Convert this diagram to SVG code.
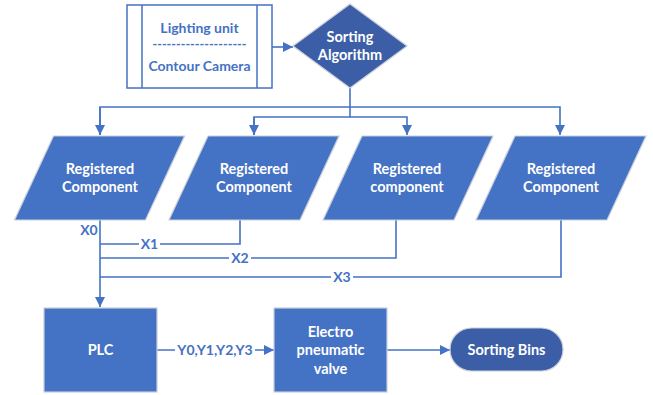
<svg xmlns="http://www.w3.org/2000/svg" width="653" height="395" viewBox="0 0 653 395">
<defs>
<marker id="arr" viewBox="0 0 10 10" refX="10" refY="5" markerWidth="10" markerHeight="10" markerUnits="userSpaceOnUse" orient="auto">
<path d="M0,0 L10,5 L0,10 Z" fill="#4472C4"/>
</marker>
<style>
.ln{fill:none;stroke:#4472C4;stroke-width:1.6}
.sh{fill:#4472C4;stroke:#C9CFD9;stroke-width:1.2}
.dk{fill:#3B5EA6;stroke:#C9CFD9;stroke-width:1.2}
.wt{font-family:Lato,"Open Sans","Liberation Sans",sans-serif;font-weight:bold;font-size:14.5px;fill:#FFFFFF;text-anchor:middle}
.bt{font-family:Lato,"Open Sans","Liberation Sans",sans-serif;font-weight:bold;font-size:14px;fill:#4472C4;text-anchor:middle}
</style>
</defs>
<rect width="653" height="395" fill="#FFFFFF"/>
<g id="connectors">
<line class="ln" x1="272" y1="47" x2="293" y2="47" marker-end="url(#arr)"/>
<polyline class="ln" points="350,88 350,117"/>
<polyline class="ln" points="100,135 100,107 560,107 560,135" marker-end="url(#arr)"/>
<line class="ln" x1="100" y1="107" x2="100" y2="135" marker-end="url(#arr)"/>
<polyline class="ln" points="254,135 254,117 407,117 407,135" marker-end="url(#arr)"/>
<line class="ln" x1="254" y1="117" x2="254" y2="135" marker-end="url(#arr)"/>
<line class="ln" x1="100" y1="220" x2="100" y2="307" marker-end="url(#arr)"/>
<polyline class="ln" points="240,220 240,244 100,244"/>
<polyline class="ln" points="396,220 396,258 100,258"/>
<polyline class="ln" points="561,220 561,277 100,277"/>
<line class="ln" x1="157" y1="350" x2="274" y2="350" marker-end="url(#arr)"/>
<line class="ln" x1="387" y1="350" x2="450" y2="350" marker-end="url(#arr)"/>
<text class="bt" x="89" y="235">X0</text>
<rect x="139" y="237" width="21" height="14" fill="#FFFFFF"/>
<text class="bt" x="149.5" y="249">X1</text>
<rect x="229" y="251" width="22" height="14" fill="#FFFFFF"/>
<text class="bt" x="240" y="263">X2</text>
<rect x="331" y="270" width="22" height="14" fill="#FFFFFF"/>
<text class="bt" x="342" y="282">X3</text>
<rect x="175" y="343" width="80" height="14" fill="#FFFFFF"/>
<text class="bt" x="215" y="355">Y0,Y1,Y2,Y3</text>
</g>
<g id="lighting">
<rect x="127" y="5" width="145" height="83" fill="#FFFFFF" stroke="#4472C4" stroke-width="1.5"/>
<line x1="142" y1="5" x2="142" y2="88" stroke="#4472C4" stroke-width="1.5"/>
<line x1="257" y1="5" x2="257" y2="88" stroke="#4472C4" stroke-width="1.5"/>
<text class="bt" x="199.5" y="33" font-size="14.5px">Lighting unit</text>
<text class="bt" x="199.5" y="49" textLength="94" lengthAdjust="spacingAndGlyphs">--------------------</text>
<text class="bt" x="199.5" y="71" font-size="14.5px">Contour Camera</text>
</g>
<g id="sorting-algorithm">
<polygon class="dk" points="350,4 407,46 350,88 293,46"/>
<text class="wt" x="350" y="42">Sorting</text>
<text class="wt" x="350" y="60">Algorithm</text>
</g>
<g id="comp1">
<polygon class="sh" points="53.5,136 184.5,136 145.5,220 14.5,220"/>
<text class="wt" x="100" y="174">Registered</text>
<text class="wt" x="100" y="192">Component</text>
</g>
<g id="comp2">
<polygon class="sh" points="208,136 339,136 300,220 169,220"/>
<text class="wt" x="254" y="174">Registered</text>
<text class="wt" x="254" y="192">Component</text>
</g>
<g id="comp3">
<polygon class="sh" points="362,136 493,136 454,220 323,220"/>
<text class="wt" x="407" y="174">Registered</text>
<text class="wt" x="407" y="192">component</text>
</g>
<g id="comp4">
<polygon class="sh" points="515,136 646,136 607,220 476,220"/>
<text class="wt" x="561" y="174">Registered</text>
<text class="wt" x="561" y="192">Component</text>
</g>
<g id="plc">
<rect class="sh" x="44" y="308" width="113" height="84"/>
<text class="wt" x="100.5" y="355">PLC</text>
</g>
<g id="valve">
<rect class="sh" x="274" y="308" width="113" height="84"/>
<text class="wt" x="330.5" y="337">Electro</text>
<text class="wt" x="330.5" y="355">pneumatic</text>
<text class="wt" x="330.5" y="373.5">valve</text>
</g>
<g id="bins">
<rect class="dk" x="450" y="328" width="113" height="43" rx="21.5" ry="21.5"/>
<text class="wt" x="506.5" y="355">Sorting Bins</text>
</g>
</svg>
